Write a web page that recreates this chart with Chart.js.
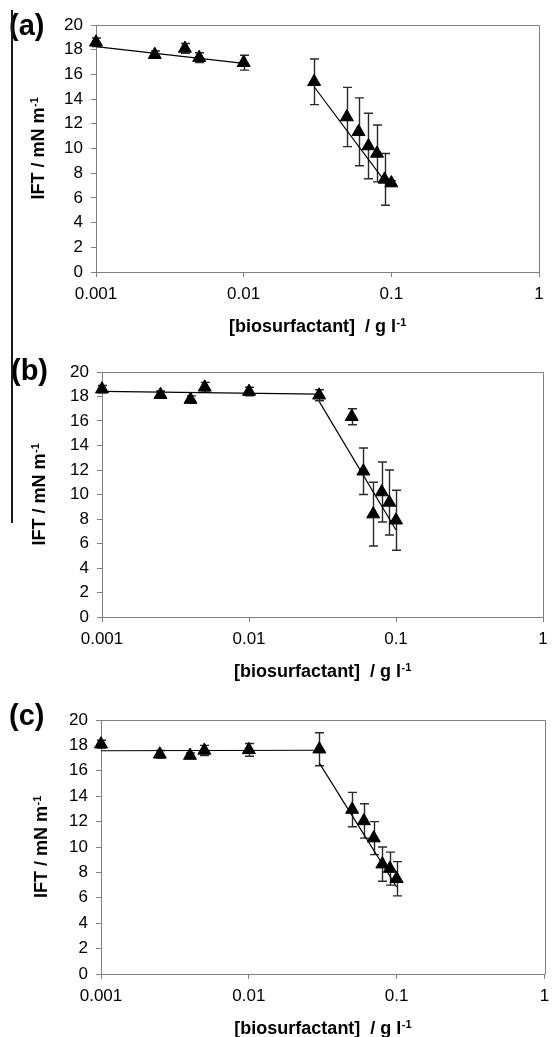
<!DOCTYPE html>
<html><head><meta charset="utf-8">
<script src="https://cdn.jsdelivr.net/npm/chart.js@4/dist/chart.umd.min.js"></script>
<style>
html,body{margin:0;padding:0;background:#fff;overflow:hidden;}
#wrap{position:relative;width:553px;height:1037px;background:#fff;}
canvas{position:absolute;left:0;}
#edge{position:absolute;left:11px;top:10px;width:2px;height:513px;background:#1a1a1a;}
</style></head><body>
<div id="wrap">
<canvas id="ca" width="553" height="345" style="top:0px;width:553px;height:345px"></canvas>
<canvas id="cb" width="553" height="345" style="top:345px;width:553px;height:345px"></canvas>
<canvas id="cc" width="553" height="347" style="top:690px;width:553px;height:347px"></canvas>
<div id="edge"></div>
</div>
<script>
// ---- data ----
const CONC = [0.001, 0.0025, 0.004, 0.005, 0.01, 0.03, 0.05, 0.06, 0.07, 0.08, 0.09, 0.1];

const IFT_A = [18.6, 17.6, 18.1, 17.35, 16.95, 15.4, 12.55, 11.35, 10.2, 9.6, 7.5, 7.2];
const ERR_A = [0.35, 0.3, 0.4, 0.4, 0.6, 1.85, 2.4, 2.75, 2.65, 2.3, 2.1, 0.2];
const FIT_A1_X = [0.001, 0.01];   const FIT_A1_Y = [18.25, 16.9];
const FIT_A2_X = [0.03, 0.095];   const FIT_A2_Y = [15.0, 7.0];

const IFT_B = [18.6, 18.15, 17.75, 18.75, 18.4, 18.1, 16.35, 11.9, 8.4, 10.2, 9.35, 7.9];
const ERR_B = [0.3, 0.3, 0.3, 0.4, 0.35, 0.45, 0.65, 1.9, 2.6, 2.45, 2.65, 2.45];
const FIT_B1_X = [0.001, 0.03];   const FIT_B1_Y = [18.42, 18.2];
const FIT_B2_X = [0.03, 0.1];     const FIT_B2_Y = [17.6, 7.1];

const IFT_C = [18.1, 17.3, 17.2, 17.6, 17.65, 17.7, 12.95, 12.05, 10.7, 8.65, 8.3, 7.5];
const ERR_C = [0.3, 0.3, 0.2, 0.4, 0.5, 1.3, 1.35, 1.35, 1.3, 1.35, 1.3, 1.35];
const FIT_C1_X = [0.001, 0.03];   const FIT_C1_Y = [17.58, 17.62];
const FIT_C2_X = [0.03, 0.1];     const FIT_C2_Y = [16.6, 6.85];

const X_TICKS = [0.001, 0.01, 0.1, 1];
const X_TICK_LABELS = ['0.001', '0.01', '0.1', '1'];
const Y_TICKS = [0, 2, 4, 6, 8, 10, 12, 14, 16, 18, 20];

const PANEL_LETTERS = ['(a)', '(b)', '(c)'];
const X_TITLE = '[biosurfactant]  / g l';
const Y_TITLE = 'IFT / mN m';
const UNIT_SUP = '-1';

// ---- rendering ----
const FONT = '"Liberation Sans", Arial, Helvetica, sans-serif';
const GRAY = '#808080';

function pts(xs, ys) { return xs.map((x, i) => ({x: x, y: ys[i]})); }

function drawSupText(ctx, main, sup, cx, cy, size) {
  ctx.font = 'bold ' + size + 'px ' + FONT;
  const w1 = ctx.measureText(main).width;
  const ss = Math.round(size * 0.62);
  ctx.font = 'bold ' + ss + 'px ' + FONT;
  const w2 = ctx.measureText(sup).width;
  const x0 = cx - (w1 + w2) / 2;
  ctx.textBaseline = 'alphabetic';
  ctx.textAlign = 'left';
  const base = cy + size * 0.36;
  ctx.font = 'bold ' + size + 'px ' + FONT;
  ctx.fillText(main, x0, base);
  ctx.font = 'bold ' + ss + 'px ' + FONT;
  ctx.fillText(sup, x0 + w1 + 0.5, base - size * 0.38);
}

const decor = {
  id: 'decor',
  beforeDatasetsDraw(chart) {
    const ds = chart.data.datasets[0];
    const xs = chart.scales.x, ys = chart.scales.y, ctx = chart.ctx;
    ctx.save();
    ctx.strokeStyle = '#2a2a2a';
    ctx.lineWidth = 1.4;
    ds.data.forEach((p, i) => {
      const e = ds.errorBars[i];
      const px = Math.round(xs.getPixelForValue(p.x)) + 0.5;
      const t = ys.getPixelForValue(p.y + e);
      const b = ys.getPixelForValue(p.y - e);
      ctx.beginPath();
      ctx.moveTo(px, t); ctx.lineTo(px, b);
      ctx.moveTo(px - 4.5, t); ctx.lineTo(px + 4.5, t);
      ctx.moveTo(px - 4.5, b); ctx.lineTo(px + 4.5, b);
      ctx.stroke();
    });
    ctx.restore();
  },
  afterDraw(chart) {
    const o = chart.options.plugins.decor;
    const a = chart.chartArea, ctx = chart.ctx;
    ctx.save();
    ctx.strokeStyle = GRAY;
    ctx.lineWidth = 1;
    ctx.beginPath();
    const L = Math.round(a.left) + 0.5, R = Math.round(a.right) + 0.5, T = Math.round(a.top) + 0.5;
    ctx.moveTo(L, T); ctx.lineTo(R, T); ctx.lineTo(R, Math.round(a.bottom) + 0.5);
    ctx.stroke();
    ctx.fillStyle = '#000';
    ctx.font = 'bold 29px ' + FONT;
    ctx.textAlign = 'left';
    ctx.textBaseline = 'middle';
    ctx.fillText(o.letter, o.letterX, o.letterY);
    drawSupText(ctx, X_TITLE, UNIT_SUP, (a.left + a.right) / 2, a.bottom + 54, 18);
    ctx.translate(o.yTitleX, (a.top + a.bottom) / 2);
    ctx.rotate(-Math.PI / 2);
    drawSupText(ctx, Y_TITLE, UNIT_SUP, 0, 0, 18);
    ctx.restore();
  }
};

function makeChart(id, idx, ift, err, f1x, f1y, f2x, f2y, cfg) {
  const lineStyle = {type: 'line', showLine: true, borderColor: '#000', borderWidth: 1.2,
    pointRadius: 0, pointHoverRadius: 0, fill: false, tension: 0, clip: false};
  return new Chart(document.getElementById(id), {
    type: 'scatter',
    data: {
      datasets: [
        {label: 'IFT', data: pts(CONC, ift), errorBars: err, pointStyle: 'triangle',
         pointRadius: 7.5, pointBackgroundColor: '#000', pointBorderColor: '#000', pointBorderWidth: 1,
         showLine: false, clip: false},
        Object.assign({label: 'fit1', data: pts(f1x, f1y)}, lineStyle),
        Object.assign({label: 'fit2', data: pts(f2x, f2y)}, lineStyle)
      ]
    },
    options: {
      responsive: false,
      animation: false,
      devicePixelRatio: 1,
      layout: {padding: {top: cfg.padTop, right: cfg.padRight, left: 0, bottom: 0}},
      plugins: {
        legend: {display: false}, tooltip: {enabled: false},
        decor: {letter: PANEL_LETTERS[idx], letterX: cfg.letterX, letterY: cfg.letterY, yTitleX: cfg.yTitleX}
      },
      scales: {
        x: {
          type: 'logarithmic', min: 0.001, max: 1, position: 'bottom',
          afterBuildTicks: s => { s.ticks = X_TICKS.map(v => ({value: v})); },
          afterFit: s => { s.height = cfg.xH; s.paddingLeft = 0; s.paddingRight = 0; },
          ticks: {autoSkip: false, maxRotation: 0, padding: 7, color: '#000',
            font: {family: FONT, size: 17},
            callback: (v, i) => X_TICK_LABELS[i]},
          grid: {drawOnChartArea: false, drawTicks: true, tickLength: 5, color: GRAY},
          border: {color: GRAY, width: 1}
        },
        y: {
          type: 'linear', min: 0, max: 20,
          afterBuildTicks: s => { s.ticks = Y_TICKS.map(v => ({value: v})); },
          afterFit: s => { s.width = cfg.yW; s.paddingTop = 0; s.paddingBottom = 0; },
          ticks: {padding: 8, color: '#000', font: {family: FONT, size: 17}},
          grid: {drawOnChartArea: false, drawTicks: true, tickLength: 5, color: GRAY},
          border: {color: GRAY, width: 1}
        }
      }
    },
    plugins: [decor]
  });
}

makeChart('ca', 0, IFT_A, ERR_A, FIT_A1_X, FIT_A1_Y, FIT_A2_X, FIT_A2_Y,
  {padTop: 25, padRight: 14, xH: 73, yW: 96, letterX: 9, letterY: 27, yTitleX: 38});
makeChart('cb', 1, IFT_B, ERR_B, FIT_B1_X, FIT_B1_Y, FIT_B2_X, FIT_B2_Y,
  {padTop: 27, padRight: 10, xH: 73, yW: 102, letterX: 11, letterY: 27, yTitleX: 39});
makeChart('cc', 2, IFT_C, ERR_C, FIT_C1_X, FIT_C1_Y, FIT_C2_X, FIT_C2_Y,
  {padTop: 30, padRight: 3, xH: 63, yW: 101, letterX: 9, letterY: 27, yTitleX: 41});
</script>
</body></html>
